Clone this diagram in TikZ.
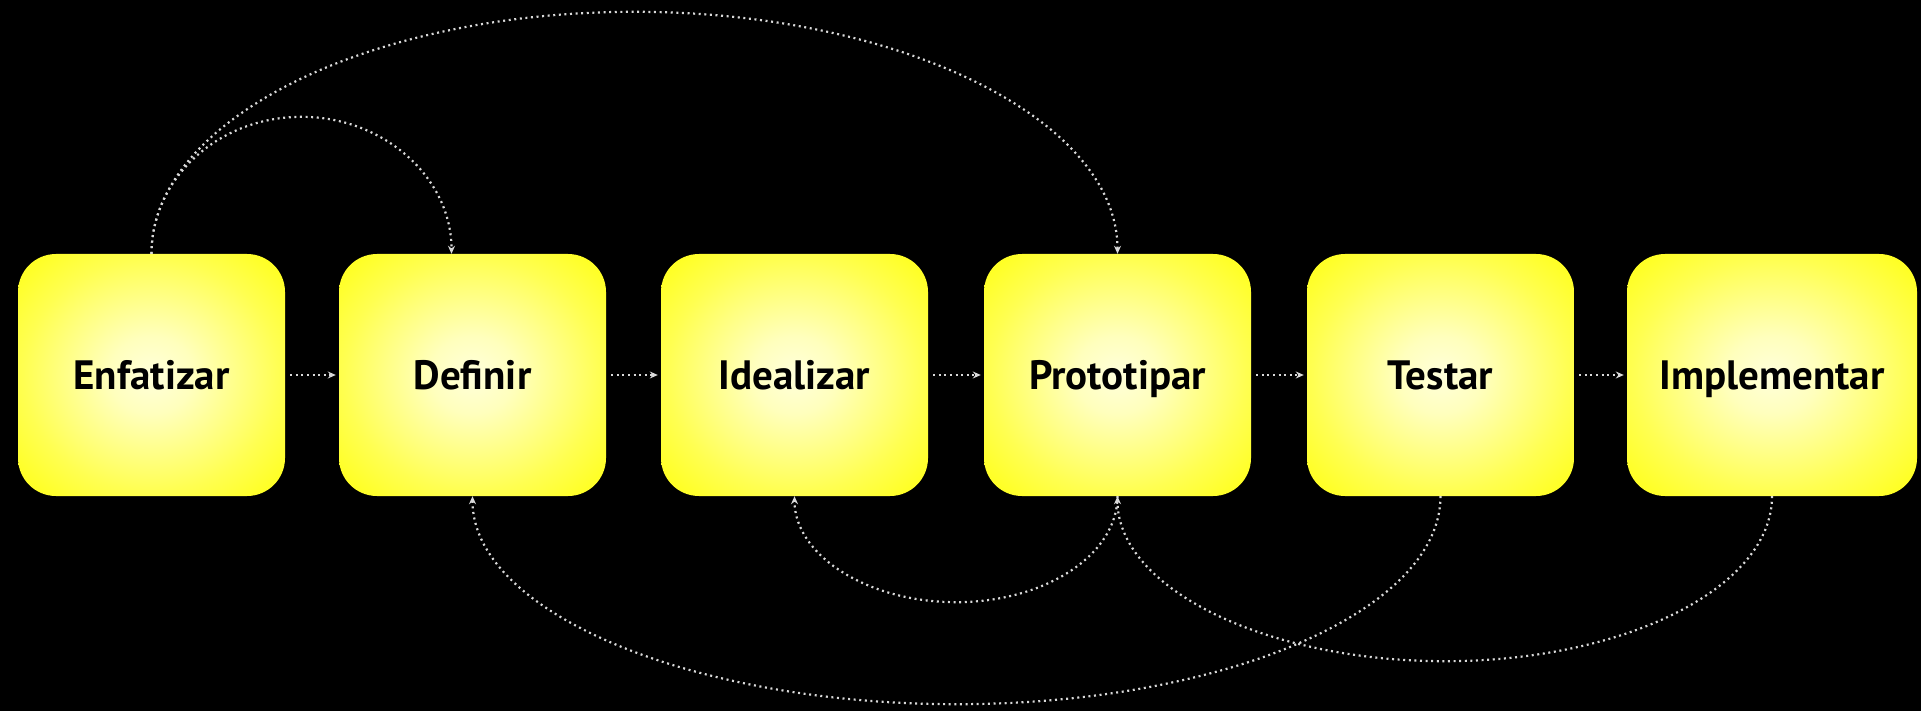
\documentclass[tikz,border=0pt]{standalone}
\usepackage{fontspec}
\setmainfont{PT Sans}
\usetikzlibrary{arrows.meta,calc}
\pgfdeclareradialshading{boxglow}{\pgfpoint{0bp}{0bp}}{rgb(0bp)=(1,1,0.86); rgb(8bp)=(1,1,0.74); rgb(24bp)=(1,1,0.32); rgb(36bp)=(1,1,0.06); rgb(50bp)=(1,0.97,0)}
\begin{document}
\begin{tikzpicture}[x=1pt,y=1pt,
  stage/.style={shape=rectangle, rounded corners=38pt, minimum width=267pt, minimum height=242pt, inner sep=0pt, shading=boxglow, text=black, font=\bfseries\fontsize{41}{48}\selectfont, text height=29pt, text depth=0pt},
  conn/.style={draw=white!85!black, line width=2.2pt, dash pattern=on 2pt off 3.6pt},
  tip/.style={-{Stealth[length=8pt,width=7pt]}}]
\fill[black] (0,0) rectangle (1921,-711);
\useasboundingbox (0,0) rectangle (1921,-711);
\node[stage] (E) at (151.5,-375) {Enfatizar};
\node[stage] (D) at (472.5,-375) {Definir};
\node[stage] (I) at (794.5,-375) {Idealizar};
\node[stage] (P) at (1117.5,-375) {Prototipar};
\node[stage] (T) at (1440.5,-375) {Testar};
\node[stage, minimum width=290pt] (M) at (1772,-375) {Implementar};
% straight connectors
\draw[conn,tip,shorten <=5pt,shorten >=3pt] (E) -- (D);
\draw[conn,tip,shorten <=5pt,shorten >=3pt] (D) -- (I);
\draw[conn,tip,shorten <=5pt,shorten >=3pt] (I) -- (P);
\draw[conn,tip,shorten <=5pt,shorten >=3pt] (P) -- (T);
\draw[conn,tip,shorten <=5pt,shorten >=3pt] (T) -- (M);
% upper arcs
\coordinate (bigtop) at ($(E.north)!0.5!(P.north)+(0,242)$);
\draw[conn,tip] (E.north) .. controls +(0,133.7) and +(-266.8,0) .. (bigtop) .. controls +(266.8,0) and +(0,133.7) .. (P.north);
\coordinate (Dtop) at ($(D.north)+(-21,0)$);
\coordinate (smalltop) at ($(E.north)!0.5!(Dtop)+(0,137)$);
\draw[conn,tip] (E.north) .. controls +(0,75.7) and +(-82.8,0) .. (smalltop) .. controls +(82.8,0) and +(0,75.7) .. (Dtop);
% lower arcs
\coordinate (tdbot) at ($(T.south)!0.5!(D.south)+(0,-208)$);
\draw[conn,tip] (T.south) .. controls +(0,-114.9) and +(267.3,0) .. (tdbot) .. controls +(-267.3,0) and +(0,-114.9) .. (D.south);
\coordinate (pibot) at ($(P.south)!0.5!(I.south)+(0,-106)$);
\draw[conn,tip] (P.south) .. controls +(0,-58.5) and +(89.2,0) .. (pibot) .. controls +(-89.2,0) and +(0,-58.5) .. (I.south);
\coordinate (mpbot) at ($(M.south)!0.5!(P.south)+(0,-165)$);
\draw[conn,tip] (M.south) .. controls +(0,-91.1) and +(180.7,0) .. (mpbot) .. controls +(-180.7,0) and +(0,-91.1) .. (P.south);
\end{tikzpicture}
\end{document}
